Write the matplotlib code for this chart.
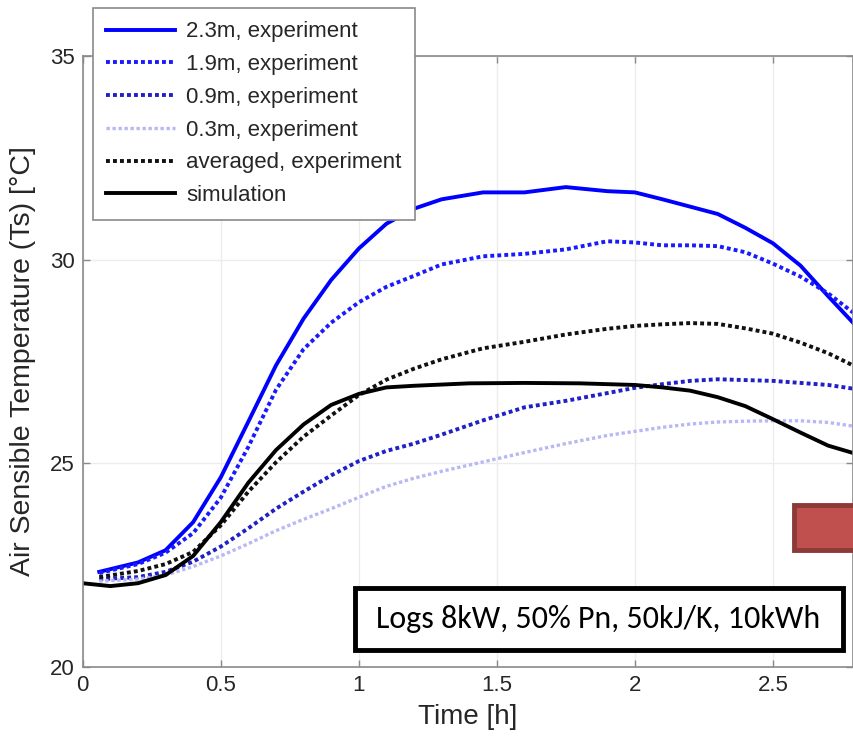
import matplotlib
matplotlib.use("Agg")
import matplotlib.pyplot as plt
from matplotlib import font_manager
from matplotlib.patches import Rectangle

plt.rcParams['font.family'] = ['Liberation Sans', 'DejaVu Sans']

# measured air temperature at four heights, hours after start
t_exp = [0.06, 0.2, 0.3, 0.4, 0.5, 0.6, 0.7, 0.8, 0.9, 1.0, 1.1, 1.2, 1.3,
         1.45, 1.6, 1.75, 1.9, 2.0, 2.1, 2.2, 2.3, 2.4, 2.5, 2.6, 2.7, 2.79]
temp_23 = [22.33, 22.56, 22.86, 23.55, 24.65, 26.02, 27.40, 28.55, 29.50, 30.27,
           30.88, 31.25, 31.48, 31.65, 31.65, 31.78, 31.68, 31.65, 31.48, 31.30,
           31.12, 30.78, 30.40, 29.85, 29.10, 28.45]
temp_19 = [22.30, 22.52, 22.80, 23.28, 24.15, 25.40, 26.80, 27.80, 28.45, 28.95,
           29.33, 29.60, 29.88, 30.08, 30.14, 30.25, 30.45, 30.42, 30.35, 30.35,
           30.33, 30.18, 29.90, 29.58, 29.17, 28.70]
temp_09 = [22.15, 22.20, 22.33, 22.58, 22.95, 23.40, 23.88, 24.30, 24.70, 25.05,
           25.30, 25.48, 25.70, 26.05, 26.37, 26.53, 26.72, 26.85, 26.94, 27.02,
           27.06, 27.04, 27.02, 26.97, 26.92, 26.83]
temp_03 = [22.10, 22.15, 22.25, 22.46, 22.72, 23.02, 23.34, 23.62, 23.88, 24.16,
           24.43, 24.63, 24.80, 25.03, 25.26, 25.48, 25.68, 25.78, 25.88, 25.96,
           26.01, 26.03, 26.04, 26.04, 26.00, 25.91]
temp_avg = [22.20, 22.35, 22.52, 22.82, 23.47, 24.30, 25.02, 25.65, 26.17, 26.67,
            27.05, 27.32, 27.55, 27.82, 27.98, 28.16, 28.30, 28.37, 28.41, 28.44,
            28.42, 28.31, 28.18, 27.96, 27.70, 27.40]

# model output
t_sim = [0.0, 0.1, 0.2, 0.3, 0.4, 0.5, 0.6, 0.7, 0.8, 0.9, 1.0, 1.1, 1.2, 1.4,
         1.6, 1.8, 2.0, 2.1, 2.2, 2.3, 2.4, 2.5, 2.6, 2.7, 2.79]
temp_sim = [22.05, 21.98, 22.05, 22.25, 22.72, 23.55, 24.52, 25.32, 25.95, 26.43,
            26.70, 26.86, 26.90, 26.96, 26.97, 26.96, 26.92, 26.86, 26.78, 26.62,
            26.40, 26.08, 25.75, 25.43, 25.25]

x_ticks = [0, 0.5, 1, 1.5, 2, 2.5]
y_ticks = [20, 25, 30, 35]
note = 'Logs 8kW, 50% Pn, 50kJ/K, 10kWh'

installed = {f.name for f in font_manager.fontManager.ttflist}
note_font = next((f for f in ['Carlito', 'Liberation Sans Narrow', 'Lato', 'Open Sans']
                  if f in installed), 'DejaVu Sans')

fig = plt.figure(figsize=(8.54, 7.36), dpi=100)
W, H = 854.0, 736.0
ax = fig.add_axes([82.7 / W, 1 - 666.7 / H, (853 - 82.7) / W, (666.7 - 56) / H])

dots = (0, (1, 0.8))
ax.plot(t_exp, temp_23, color='#0000ff', lw=2.8, label='2.3m, experiment')
ax.plot(t_exp, temp_19, color='#1a1aff', lw=2.8, ls=dots, dash_capstyle='butt',
        label='1.9m, experiment')
ax.plot(t_exp, temp_09, color='#2020c8', lw=2.8, ls=dots, dash_capstyle='butt',
        label='0.9m, experiment')
ax.plot(t_exp, temp_03, color='#b8b8f4', lw=2.4, ls=dots, dash_capstyle='butt',
        label='0.3m, experiment')
ax.plot(t_exp, temp_avg, color='#111111', lw=2.8, ls=dots, dash_capstyle='butt',
        label='averaged, experiment')
ax.plot(t_sim, temp_sim, color='black', lw=2.8, label='simulation')

ax.set_xlim(0, 2.79)
ax.set_ylim(20, 35)
ax.set_xticks(x_ticks)
ax.set_xticklabels(['0', '0.5', '1', '1.5', '2', '2.5'])
ax.set_yticks(y_ticks)
ax.grid(True, color='#ececec', lw=1.0)
ax.set_axisbelow(True)
ax.tick_params(direction='in', length=5, width=1, colors='#8a8a8a',
               labelcolor='#262626', labelsize=16, top=True, right=True, pad=6)
for s in ax.spines.values():
    s.set_color('#8a8a8a')
    s.set_linewidth(1.2)

ax.set_xlabel('Time [h]', fontsize=20, color='#262626', labelpad=6)
ax.set_ylabel('Air Sensible Temperature (Ts) [°C]', fontsize=20.5, color='#262626',
              labelpad=10)

leg = ax.legend(loc='upper left', bbox_to_anchor=(93 / W, 1 - 8 / H),
                bbox_transform=fig.transFigure, fontsize=16, frameon=True,
                fancybox=False, framealpha=1, edgecolor='#8a8a8a',
                handlelength=3.1, handletextpad=0.5, labelspacing=0.53,
                borderpad=0.6, borderaxespad=0)
leg.get_frame().set_linewidth(1.2)
for txt in leg.get_texts():
    txt.set_color('#262626')

# annotation box and the red block cut by the right edge
fig.patches.append(Rectangle((355 / W, 1 - 650 / H), (843 - 355) / W, 62 / H,
                             transform=fig.transFigure, facecolor='white',
                             edgecolor='black', lw=3.5, zorder=5))
fig.text(598 / W, 1 - 619 / H, note, fontsize=23, family=note_font,
         ha='center', va='center', zorder=6)
fig.patches.append(Rectangle((794 / W, 1 - 550 / H), 120 / W, 45 / H,
                             transform=fig.transFigure, facecolor='#c0504d',
                             edgecolor='#8c3a37', lw=3.5, zorder=5))

fig.savefig('out.png', dpi=100)
